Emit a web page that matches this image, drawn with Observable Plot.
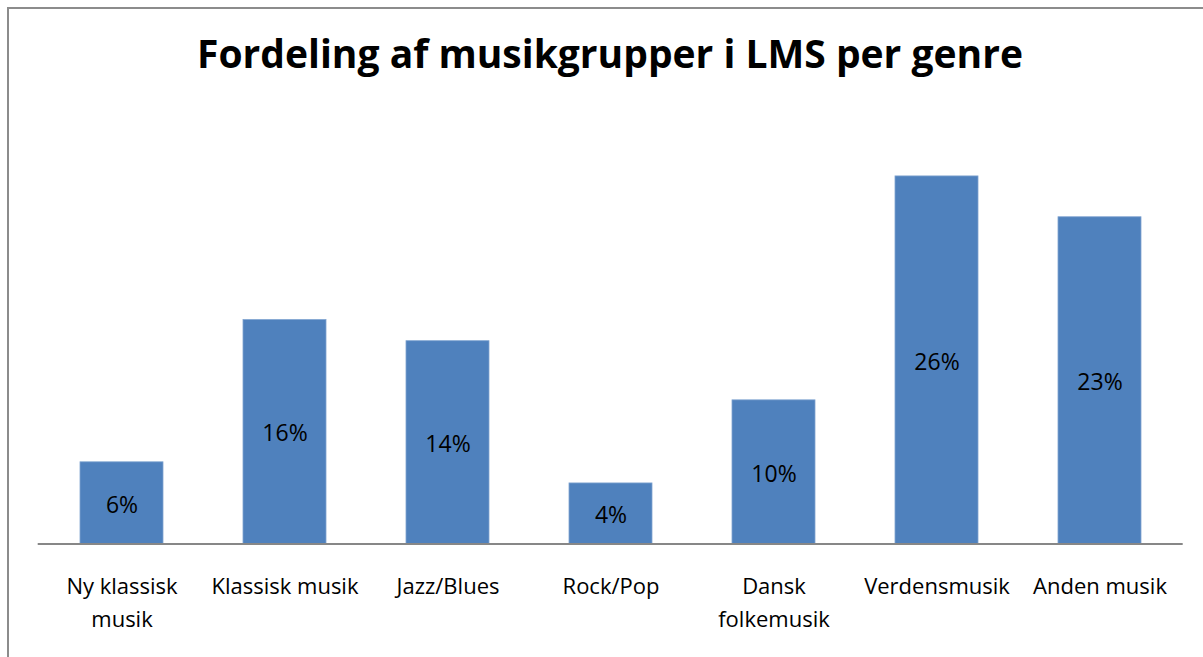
<!DOCTYPE html>
<html>
<head>
<meta charset="utf-8">
<script src="https://cdn.jsdelivr.net/npm/d3@7"></script>
<script src="https://cdn.jsdelivr.net/npm/@observablehq/plot@0.6"></script>
<style>
  html, body { margin: 0; padding: 0; background: #fff; }
  body { width: 1203px; height: 657px; overflow: hidden; position: relative; font-family: "Open Sans", sans-serif; }
  #frame { position: absolute; left: 7px; top: 7px; width: 1300px; height: 760px; border: 2px solid #8c8c8c; box-sizing: border-box; }
  #title { position: relative; height: 100px; width: 1220px; text-align: center; }
  #title span { position: absolute; left: 0; right: 0; top: 33px; font-size: 39px; line-height: 1; font-weight: 700; color: #000; }
  #chart { position: relative; }
</style>
</head>
<body>
<div id="frame"></div>
<div id="title"><span>Fordeling af musikgrupper i LMS per genre</span></div>
<div id="chart"></div>
<script>
const categories = ["Ny klassisk musik", "Klassisk musik", "Jazz/Blues", "Rock/Pop", "Dansk folkemusik", "Verdensmusik", "Anden musik"];
const tickLabels = ["Ny klassisk\nmusik", "Klassisk musik", "Jazz/Blues", "Rock/Pop", "Dansk\nfolkemusik", "Verdensmusik", "Anden musik"];
const shares = [5.8, 15.9, 14.4, 4.3, 10.2, 26.1, 23.2];

const data = categories.map((c, i) => ({genre: c, value: shares[i]}));

const chart = Plot.plot({
  width: 1203,
  height: 557,
  marginLeft: 37.7,
  marginRight: 20.3,
  marginTop: 21,
  marginBottom: 113.5,
  style: {fontFamily: "Open Sans, sans-serif", fontSize: "22px", color: "#000", background: "transparent"},
  x: {domain: categories, paddingInner: 0.49, paddingOuter: 0.245, label: null},
  y: {domain: [0, 30], axis: null},
  marks: [
    Plot.barY(data, {x: "genre", y: "value", fill: "#4F81BD", stroke: "#7FA3D0", strokeWidth: 0.8}),
    Plot.ruleY([0], {stroke: "#878787", strokeWidth: 2}),
    Plot.text(data, {x: "genre", y: d => d.value / 2, text: d => Math.round(d.value) + "%", fill: "#000", fontSize: 23, dy: 2}),
    Plot.axisX({tickSize: 0, tickPadding: 27, fontSize: 22, lineHeight: 1.5, fill: "#000",
      tickFormat: d => tickLabels[categories.indexOf(d)], label: null})
  ]
});
document.getElementById("chart").appendChild(chart);
</script>
</body>
</html>
